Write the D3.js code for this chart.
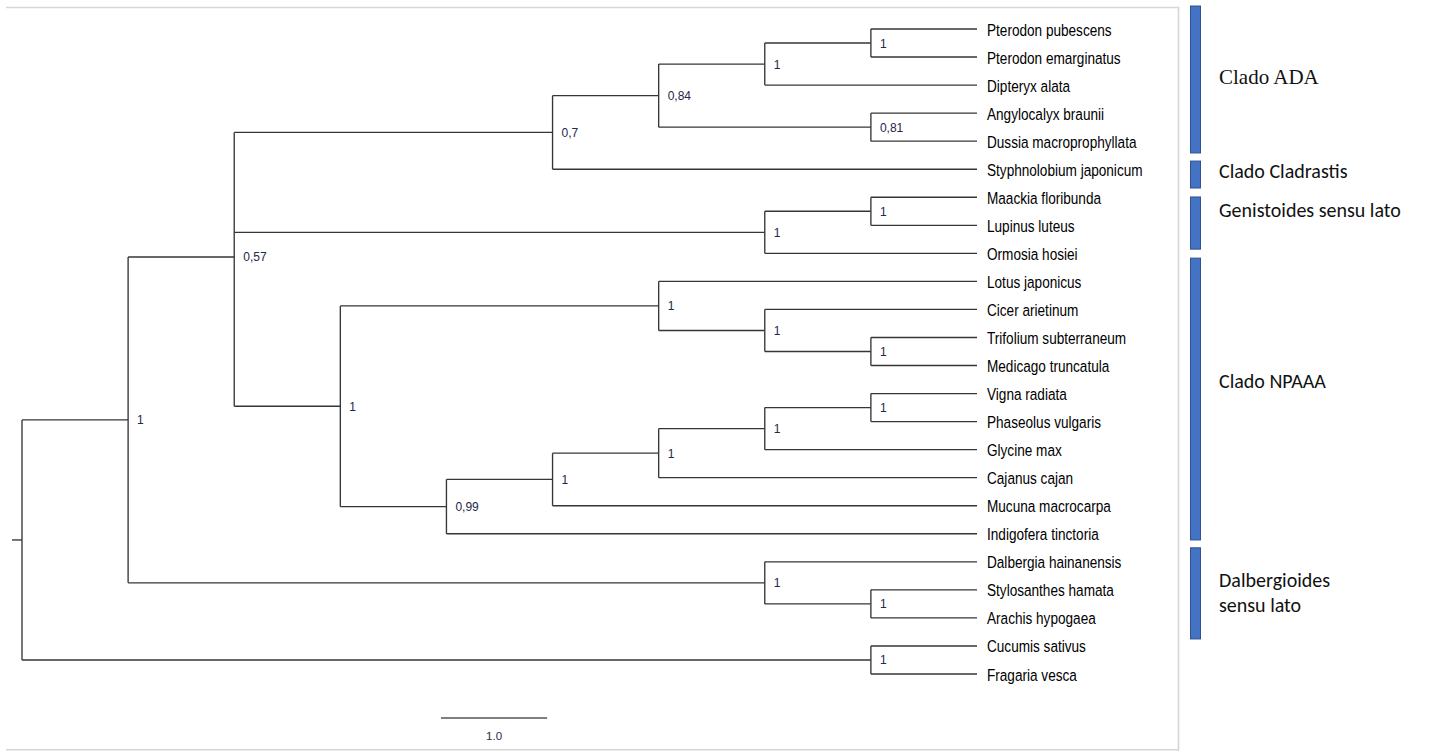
<!DOCTYPE html>
<html>
<head>
<meta charset="utf-8">
<script src="https://cdn.jsdelivr.net/npm/d3@7"></script>
<style>
  html, body { margin: 0; padding: 0; background: #fff; }
  svg { display: block; }
</style>
</head>
<body>
<svg id="chart" width="1432" height="751"></svg>
<script>
// ---------------- DATA ----------------
// Tip order (top to bottom)
const taxa = [
  "Pterodon pubescens", "Pterodon emarginatus", "Dipteryx alata", "Angylocalyx braunii",
  "Dussia macroprophyllata", "Styphnolobium japonicum", "Maackia floribunda", "Lupinus luteus",
  "Ormosia hosiei", "Lotus japonicus", "Cicer arietinum", "Trifolium subterraneum",
  "Medicago truncatula", "Vigna radiata", "Phaseolus vulgaris", "Glycine max",
  "Cajanus cajan", "Mucuna macrocarpa", "Indigofera tinctoria", "Dalbergia hainanensis",
  "Stylosanthes hamata", "Arachis hypogaea", "Cucumis sativus", "Fragaria vesca"
];

// Topology: [support, child, child, ...]; leaves are taxon names
const ada = ["0,7",
  ["0,84",
    ["1", ["1", "Pterodon pubescens", "Pterodon emarginatus"], "Dipteryx alata"],
    ["0,81", "Angylocalyx braunii", "Dussia macroprophyllata"]],
  "Styphnolobium japonicum"];
const genistoides = ["1", ["1", "Maackia floribunda", "Lupinus luteus"], "Ormosia hosiei"];
const npaaa = ["1",
  ["1", "Lotus japonicus", ["1", "Cicer arietinum", ["1", "Trifolium subterraneum", "Medicago truncatula"]]],
  ["0,99",
    ["1", ["1", ["1", ["1", "Vigna radiata", "Phaseolus vulgaris"], "Glycine max"], "Cajanus cajan"], "Mucuna macrocarpa"],
    "Indigofera tinctoria"]];
const dalbergioides = ["1", "Dalbergia hainanensis", ["1", "Stylosanthes hamata", "Arachis hypogaea"]];
const outgroup = ["1", "Cucumis sativus", "Fragaria vesca"];
const tree = ["", ["1", ["0,57", ada, genistoides, npaaa], dalbergioides], outgroup];

// Clade brackets (extent in tip-index units) and labels
const cladeNames   = [["Clado ADA"], ["Clado Cladrastis"], ["Genistoides sensu lato"], ["Clado NPAAA"], ["Dalbergioides", "sensu lato"]];
const cladeStart   = [-0.82, 4.71, 5.99, 8.17, 18.50];
const cladeEnd     = [4.42, 5.67, 7.85, 18.22, 21.75];
const cladeLabelAt = [1.71, 5.06, 6.45, 12.55, 19.65];
const cladeSerif   = [true, false, false, false, false];

const scaleBarValue = 1.0;
const scaleBarLabel = "1.0";

// ---------------- DRAW ----------------
const svg = d3.select("#chart");

function toNode(d) {
  if (typeof d === "string") return { name: d };
  return { support: d[0], children: d.slice(1).map(toNode) };
}
const root = d3.hierarchy(toNode(tree));

const y = d3.scalePoint().domain(taxa).range([29, 674]);
const x = d3.scaleLinear().domain([root.height, 0]).range([22, 977]);
const yIdx = d3.scaleLinear().domain([0, taxa.length - 1]).range([29, 674]);

root.eachAfter(n => {
  n.py = n.children ? d3.mean(n.children, c => c.py) : y(n.data.name);
  n.px = x(n.height);
});

// Frame
const frame = svg.append("g").attr("fill", "none").attr("stroke", "#d6d6d6").attr("stroke-width", 1.6);
frame.append("path").attr("d", "M6,7.5H1178.5V751");
frame.append("path").attr("d", "M6,749.8H1178.5");

const lines = svg.append("g").attr("stroke", "#363636").attr("stroke-width", 1.35).attr("fill", "none");

// branches
root.descendants().forEach(n => {
  if (n.parent) {
    lines.append("line")
      .attr("x1", n.parent.px).attr("x2", n.px)
      .attr("y1", n.py).attr("y2", n.py);
  }
  if (n.children) {
    lines.append("line")
      .attr("x1", n.px).attr("x2", n.px)
      .attr("y1", n.children[0].py).attr("y2", n.children[n.children.length - 1].py);
  }
});
// root stub
lines.append("line").attr("x1", root.px - 10).attr("x2", root.px).attr("y1", root.py).attr("y2", root.py);

// support labels
svg.append("g").selectAll("text")
  .data(root.descendants().filter(n => n.children && n.data.support))
  .join("text")
  .attr("x", n => n.px + 9)
  .attr("y", n => n.py + 4.5)
  .attr("font-family", "Liberation Sans, Arial, sans-serif")
  .attr("font-size", 12)
  .attr("fill", "#24264a")
  .text(n => n.data.support);

// tip labels
svg.append("g").selectAll("text")
  .data(root.leaves())
  .join("text")
  .attr("transform", n => `translate(${n.px + 10},${n.py + 6.5}) scale(0.8,1)`)
  .attr("font-family", "Liberation Sans, Arial, sans-serif")
  .attr("font-size", 17)
  .attr("fill", "#000")
  .text(n => n.data.name);

// scale bar
const sbX = 441;
const sbLen = x(0) - x(scaleBarValue);
svg.append("line")
  .attr("x1", sbX).attr("x2", sbX + sbLen)
  .attr("y1", 718).attr("y2", 718)
  .attr("stroke", "#7f7f7f").attr("stroke-width", 2);
svg.append("text")
  .attr("x", sbX + sbLen / 2).attr("y", 740)
  .attr("text-anchor", "middle")
  .attr("font-family", "Liberation Sans, Arial, sans-serif")
  .attr("font-size", 11.5)
  .attr("fill", "#2a2a4a")
  .text(scaleBarLabel);

// clade bars + labels
const cg = svg.append("g");
cladeNames.forEach((names, i) => {
  const y0 = yIdx(cladeStart[i]), y1 = yIdx(cladeEnd[i]);
  cg.append("rect")
    .attr("x", 1190.5).attr("y", y0)
    .attr("width", 10).attr("height", y1 - y0)
    .attr("fill", "#4472c4").attr("stroke", "#2f528f").attr("stroke-width", 1);
  const t = cg.append("text")
    .attr("x", 1219)
    .attr("y", yIdx(cladeLabelAt[i]) + 7)
    .attr("font-family", cladeSerif[i] ? "Liberation Serif, Times New Roman, serif" : "Carlito, Calibri, Lato, sans-serif")
    .attr("font-size", cladeSerif[i] ? 21 : 20)
    .attr("fill", "#111");
  names.forEach((nm, j) => {
    t.append("tspan").attr("x", 1219).attr("dy", j === 0 ? 0 : 25).text(nm);
  });
});
</script>
</body>
</html>
